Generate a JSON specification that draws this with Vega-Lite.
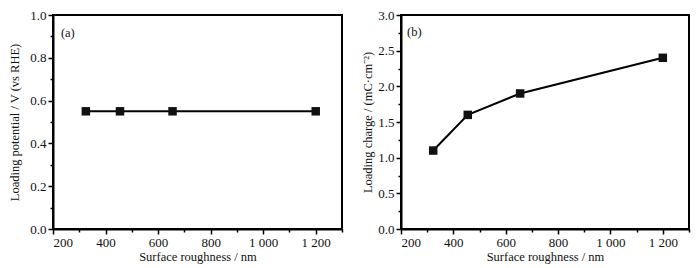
{
  "$schema": "https://vega.github.io/schema/vega-lite/v6.json",
  "autosize": {"type": "pad"},
  "padding": {"left": 7, "top": 8, "right": 5, "bottom": 4},
  "background": "white",
  "config": {
    "font": "Liberation Serif",
    "view": {"stroke": "black", "strokeWidth": 2},
    "text": {"font": "Liberation Serif", "fontWeight": "normal"},
    "axis": {
      "domainColor": "black", "domainWidth": 2, "tickColor": "black", "tickWidth": 1.5,
      "labelFont": "Liberation Serif", "titleFont": "Liberation Serif",
      "labelFontSize": 13, "titleFontSize": 12.5, "labelColor": "#111", "titleColor": "#111",
      "titleFontWeight": "normal", "grid": false, "labelPadding": 2
    }
  },
  "spacing": 16,
  "datasets": {
    "a": [
      {"roughness": 325, "value": 0.55},
      {"roughness": 455, "value": 0.55},
      {"roughness": 655, "value": 0.55},
      {"roughness": 1200, "value": 0.55}
    ],
    "b": [
      {"roughness": 323, "value": 1.1},
      {"roughness": 455, "value": 1.6},
      {"roughness": 655, "value": 1.9},
      {"roughness": 1200, "value": 2.4}
    ]
  },
  "hconcat": [
    {
      "width": 289, "height": 214,
      "data": {"name": "a"},
      "layer": [
        {
          "mark": {"type": "line", "color": "black", "strokeWidth": 2},
          "encoding": {
            "x": {"field": "roughness", "type": "quantitative", "scale": {"domain": [200, 1300], "nice": false},
              "axis": {"title": "Surface roughness / nm", "values": [200, 400, 600, 800, 1000, 1200], "tickSize": 5, "labelFont": "Liberation Serif", "labelExpr": "replace(format(datum.value, ','), ',', ' ')", "titlePadding": 1}},
            "y": {"field": "value", "type": "quantitative", "scale": {"domain": [0, 1], "nice": false},
              "axis": {"title": "Loading potential / V (vs RHE)", "values": [0, 0.2, 0.4, 0.6, 0.8, 1.0], "format": ".1f", "labelFont": "Liberation Serif", "tickSize": 5, "titlePadding": 8}}
          }
        },
        {
          "mark": {"type": "point", "shape": "square", "filled": true, "color": "#111", "size": 72, "opacity": 1},
          "encoding": {
            "x": {"field": "roughness", "type": "quantitative", "axis": {"orient": "bottom", "values": [300, 500, 700, 900, 1100, 1300], "labels": false, "title": null, "tickSize": 3, "domain": false}},
            "y": {"field": "value", "type": "quantitative", "axis": {"orient": "left", "values": [0.1, 0.3, 0.5, 0.7, 0.9], "labels": false, "title": null, "tickSize": 3, "domain": false}}
          }
        },
        {
          "data": {"values": [{"label": "(a)"}]},
          "mark": {"type": "text", "align": "left", "baseline": "middle", "fontSize": 12.5, "color": "#111", "font": "Liberation Serif", "fontWeight": "normal"},
          "encoding": {"x": {"datum": 230, "type": "quantitative", "axis": null}, "y": {"datum": 0.916, "type": "quantitative", "axis": null}, "text": {"field": "label"}}
        }
      ],
      "resolve": {"axis": {"x": "independent", "y": "independent"}}
    },
    {
      "width": 288, "height": 214,
      "data": {"name": "b"},
      "layer": [
        {
          "mark": {"type": "line", "color": "black", "strokeWidth": 2},
          "encoding": {
            "x": {"field": "roughness", "type": "quantitative", "scale": {"domain": [200, 1300], "nice": false},
              "axis": {"title": "Surface roughness / nm", "values": [200, 400, 600, 800, 1000, 1200], "tickSize": 5, "labelFont": "Liberation Serif", "labelExpr": "replace(format(datum.value, ','), ',', ' ')", "titlePadding": 1}},
            "y": {"field": "value", "type": "quantitative", "scale": {"domain": [0, 3], "nice": false},
              "axis": {"title": "Loading charge / (mC·cm⁻²)", "values": [0, 0.5, 1.0, 1.5, 2.0, 2.5, 3.0], "format": ".1f", "labelFont": "Liberation Serif", "tickSize": 5, "titlePadding": 3}}
          }
        },
        {
          "mark": {"type": "point", "shape": "square", "filled": true, "color": "#111", "size": 72, "opacity": 1},
          "encoding": {
            "x": {"field": "roughness", "type": "quantitative", "axis": {"orient": "bottom", "values": [300, 500, 700, 900, 1100, 1300], "labels": false, "title": null, "tickSize": 3, "domain": false}},
            "y": {"field": "value", "type": "quantitative", "axis": {"orient": "left", "values": [0.25, 0.75, 1.25, 1.75, 2.25, 2.75], "labels": false, "title": null, "tickSize": 3, "domain": false}}
          }
        },
        {
          "data": {"values": [{"label": "(b)"}]},
          "mark": {"type": "text", "align": "left", "baseline": "middle", "fontSize": 12.5, "color": "#111", "font": "Liberation Serif", "fontWeight": "normal"},
          "encoding": {"x": {"datum": 223, "type": "quantitative", "axis": null}, "y": {"datum": 2.76, "type": "quantitative", "axis": null}, "text": {"field": "label"}}
        }
      ],
      "resolve": {"axis": {"x": "independent", "y": "independent"}}
    }
  ]
}
